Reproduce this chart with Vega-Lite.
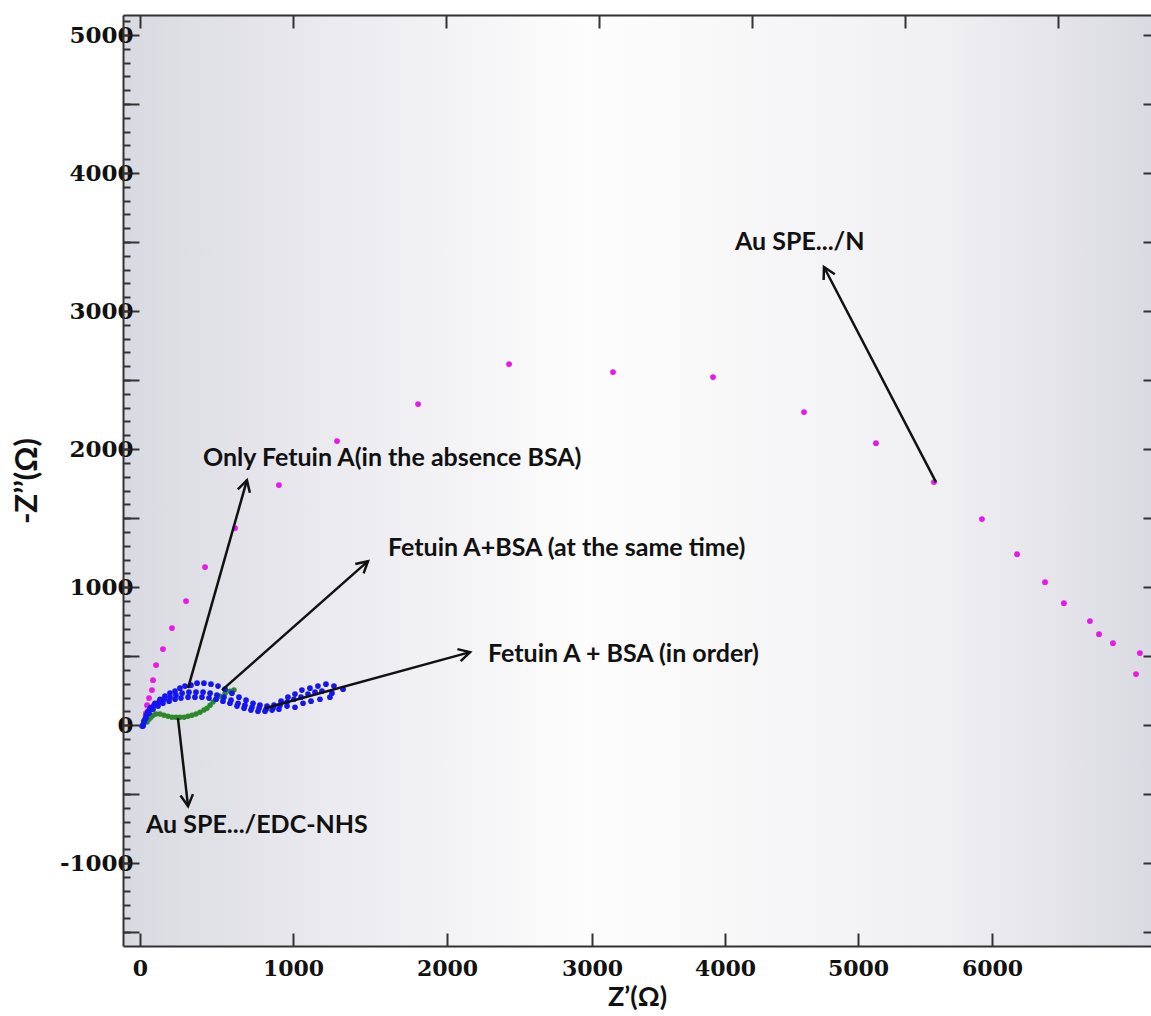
{
  "$schema": "https://vega.github.io/schema/vega-lite/v6.json",
  "width": 1028,
  "height": 931,
  "autosize": "none",
  "padding": {"left": 123, "top": 15, "right": 0, "bottom": 70},
  "background": "white",
  "config": {
    "view": {
      "stroke": null,
      "fill": {"gradient": "linear", "x1": 0, "y1": 0, "x2": 1, "y2": 0,
        "stops": [
          {"offset": 0, "color": "#d9d9e1"},
          {"offset": 0.2, "color": "#eaeaef"},
          {"offset": 0.45, "color": "#fdfdfd"},
          {"offset": 0.8, "color": "#f0f0f3"},
          {"offset": 1, "color": "#dadae2"}
        ]}
    },
    "axis": {"grid": false, "tickColor": "#333333", "domainColor": "#333333", "tickWidth": 2, "domainWidth": 2}
  },
  "datasets": {
    "magenta": [
      {"x": 33, "y": 36}, {"x": 39, "y": 87}, {"x": 46, "y": 145}, {"x": 59, "y": 196}, {"x": 78, "y": 254},
      {"x": 85, "y": 326}, {"x": 105, "y": 435}, {"x": 150, "y": 551}, {"x": 209, "y": 703}, {"x": 301, "y": 899},
      {"x": 425, "y": 1145}, {"x": 621, "y": 1428}, {"x": 908, "y": 1739}, {"x": 1286, "y": 2058}, {"x": 1812, "y": 2326},
      {"x": 2428, "y": 2616}, {"x": 3158, "y": 2558}, {"x": 3910, "y": 2522}, {"x": 4594, "y": 2268}, {"x": 5134, "y": 2043},
      {"x": 5567, "y": 1761}, {"x": 5925, "y": 1493}, {"x": 6187, "y": 1239}, {"x": 6396, "y": 1036}, {"x": 6537, "y": 884},
      {"x": 6731, "y": 754}, {"x": 6799, "y": 659}, {"x": 6903, "y": 594}, {"x": 7104, "y": 522}, {"x": 7075, "y": 370}
    ],
    "green": [
      {"x": 46, "y": 22}, {"x": 59, "y": 43}, {"x": 72, "y": 58}, {"x": 85, "y": 72}, {"x": 105, "y": 80},
      {"x": 131, "y": 80}, {"x": 157, "y": 72}, {"x": 183, "y": 65}, {"x": 209, "y": 58}, {"x": 235, "y": 58},
      {"x": 261, "y": 58}, {"x": 288, "y": 58}, {"x": 314, "y": 65}, {"x": 340, "y": 72}, {"x": 366, "y": 80},
      {"x": 392, "y": 94}, {"x": 418, "y": 109}, {"x": 438, "y": 123}, {"x": 458, "y": 145}, {"x": 477, "y": 167},
      {"x": 497, "y": 188}, {"x": 523, "y": 210}, {"x": 556, "y": 232}, {"x": 588, "y": 246}, {"x": 614, "y": 254}
    ],
    "blue": [
      {"s": "A", "x": 20, "y": -7}, {"s": "A", "x": 26, "y": 29}, {"s": "A", "x": 39, "y": 65}, {"s": "A", "x": 52, "y": 101},
      {"s": "A", "x": 72, "y": 130}, {"s": "A", "x": 98, "y": 159}, {"s": "A", "x": 131, "y": 188}, {"s": "A", "x": 163, "y": 210},
      {"s": "A", "x": 196, "y": 232}, {"s": "A", "x": 229, "y": 246}, {"s": "A", "x": 261, "y": 268}, {"s": "A", "x": 294, "y": 283},
      {"s": "A", "x": 333, "y": 290}, {"s": "A", "x": 373, "y": 304}, {"s": "A", "x": 418, "y": 304}, {"s": "A", "x": 464, "y": 297},
      {"s": "A", "x": 510, "y": 283}, {"s": "A", "x": 556, "y": 261}, {"s": "A", "x": 601, "y": 232}, {"s": "A", "x": 647, "y": 203},
      {"s": "A", "x": 693, "y": 181}, {"s": "A", "x": 739, "y": 159}, {"s": "A", "x": 784, "y": 145}, {"s": "A", "x": 830, "y": 138},
      {"s": "A", "x": 876, "y": 145}, {"s": "A", "x": 922, "y": 174}, {"s": "A", "x": 967, "y": 203}, {"s": "A", "x": 1013, "y": 225},
      {"s": "A", "x": 1058, "y": 254}, {"s": "A", "x": 1110, "y": 268}, {"s": "A", "x": 1162, "y": 283}, {"s": "A", "x": 1214, "y": 297},
      {"s": "A", "x": 1266, "y": 283}, {"s": "A", "x": 1325, "y": 261},
      {"s": "B", "x": 20, "y": 0}, {"s": "B", "x": 33, "y": 43}, {"s": "B", "x": 46, "y": 80}, {"s": "B", "x": 65, "y": 116},
      {"s": "B", "x": 92, "y": 145}, {"s": "B", "x": 124, "y": 167}, {"s": "B", "x": 157, "y": 188}, {"s": "B", "x": 196, "y": 203},
      {"s": "B", "x": 235, "y": 217}, {"s": "B", "x": 275, "y": 232}, {"s": "B", "x": 320, "y": 239}, {"s": "B", "x": 366, "y": 239},
      {"s": "B", "x": 412, "y": 239}, {"s": "B", "x": 458, "y": 232}, {"s": "B", "x": 503, "y": 217}, {"s": "B", "x": 549, "y": 203},
      {"s": "B", "x": 595, "y": 181}, {"s": "B", "x": 641, "y": 159}, {"s": "B", "x": 686, "y": 145}, {"s": "B", "x": 732, "y": 130},
      {"s": "B", "x": 778, "y": 123}, {"s": "B", "x": 824, "y": 116}, {"s": "B", "x": 869, "y": 123}, {"s": "B", "x": 915, "y": 145},
      {"s": "B", "x": 961, "y": 167}, {"s": "B", "x": 1006, "y": 188}, {"s": "B", "x": 1052, "y": 203}, {"s": "B", "x": 1097, "y": 225},
      {"s": "B", "x": 1143, "y": 239}, {"s": "B", "x": 1188, "y": 246}, {"s": "B", "x": 1253, "y": 232},
      {"s": "C", "x": 13, "y": -7}, {"s": "C", "x": 26, "y": 22}, {"s": "C", "x": 39, "y": 51}, {"s": "C", "x": 59, "y": 87},
      {"s": "C", "x": 85, "y": 116}, {"s": "C", "x": 118, "y": 138}, {"s": "C", "x": 150, "y": 159}, {"s": "C", "x": 190, "y": 174},
      {"s": "C", "x": 229, "y": 188}, {"s": "C", "x": 268, "y": 196}, {"s": "C", "x": 314, "y": 203}, {"s": "C", "x": 359, "y": 203},
      {"s": "C", "x": 405, "y": 203}, {"s": "C", "x": 451, "y": 196}, {"s": "C", "x": 497, "y": 188}, {"s": "C", "x": 542, "y": 174},
      {"s": "C", "x": 588, "y": 159}, {"s": "C", "x": 634, "y": 138}, {"s": "C", "x": 680, "y": 123}, {"s": "C", "x": 725, "y": 109},
      {"s": "C", "x": 771, "y": 101}, {"s": "C", "x": 817, "y": 101}, {"s": "C", "x": 863, "y": 109}, {"s": "C", "x": 908, "y": 116},
      {"s": "C", "x": 961, "y": 138}, {"s": "C", "x": 1013, "y": 130}, {"s": "C", "x": 1065, "y": 159}, {"s": "C", "x": 1117, "y": 174},
      {"s": "C", "x": 1175, "y": 188}, {"s": "C", "x": 1240, "y": 203}
    ],
    "notes": [
      {"label": "Au SPE.../N", "x": 4075, "y": 3500},
      {"label": "Only Fetuin A(in the absence BSA)", "x": 412, "y": 1935},
      {"label": "Fetuin A+BSA (at the same time)", "x": 1617, "y": 1283},
      {"label": "Fetuin A + BSA (in order)", "x": 2283, "y": 514},
      {"label": "Au SPE.../EDC-NHS", "x": 39, "y": -725}
    ],
    "arrows": [
      {"x": 5582, "y": 1761, "x2": 4744, "y2": 3319, "angle": -27.5},
      {"x": 314, "y": 268, "x2": 699, "y2": 1775, "angle": 15.8},
      {"x": 536, "y": 254, "x2": 1487, "y2": 1188, "angle": 48.5},
      {"x": 817, "y": 123, "x2": 2159, "y2": 529, "angle": 74.7},
      {"x": 248, "y": 51, "x2": 314, "y2": -587, "angle": 173.5}
    ]
  },
  "layer": [
    {
      "data": {"name": "magenta"},
      "mark": {"type": "point", "filled": true, "size": 34, "color": "#e61ae6", "opacity": 1},
      "encoding": {
        "x": {"field": "x", "type": "quantitative",
          "scale": {"type": "linear", "domain": [-111, 0, 1000, 2000, 3000, 4000, 5000, 6000, 7187], "range": [0, 17, 170, 324, 469, 602, 735, 869, 1028], "nice": false, "zero": false},
          "axis": {"orient": "bottom", "values": [0, 1000, 2000, 3000, 4000, 5000, 6000], "format": "d", "tickSize": -13,
            "labelFont": "DejaVu Serif", "labelFontWeight": "bold", "labelFontSize": 22, "labelColor": "#111111", "labelPadding": 25,
            "title": "Z’(Ω)", "titleFont": "Lato", "titleFontWeight": "bold", "titleFontSize": 27, "titleColor": "#111111", "titlePadding": 5}},
        "y": {"field": "y", "type": "quantitative",
          "scale": {"domain": [-1600, 5145], "nice": false, "zero": false},
          "axis": {"orient": "left", "values": [-1500, -1000, -500, 0, 500, 1000, 1500, 2000, 2500, 3000, 3500, 4000, 4500, 5000],
            "labelExpr": "datum.value % 1000 === 0 ? (datum.value < 0 ? '-' : '') + abs(datum.value) : ''", "tickSize": -16,
            "labelFont": "DejaVu Serif", "labelFontWeight": "bold", "labelFontSize": 23, "labelColor": "#111111", "labelPadding": 6,
            "title": "-Z’’(Ω)", "titleFont": "Lato", "titleFontWeight": "bold", "titleFontSize": 31, "titleColor": "#111111", "titlePadding": 16}}
      }
    },
    {
      "data": {"name": "green"},
      "mark": {"type": "point", "filled": true, "size": 30, "color": "#2a8a2a", "opacity": 1},
      "encoding": {
        "x": {"field": "x", "type": "quantitative",
          "scale": {"type": "linear", "domain": [-111, 0, 1000, 2000, 3000, 4000, 5000, 6000, 7187], "range": [0, 17, 170, 324, 469, 602, 735, 869, 1028], "nice": false, "zero": false},
          "axis": {"orient": "top", "values": [0, 1000, 1993, 3053, 4203, 5351, 6493], "tickSize": -13, "labels": false, "title": null}},
        "y": {"field": "y", "type": "quantitative",
          "scale": {"domain": [-1600, 5145], "nice": false, "zero": false},
          "axis": {"orient": "left", "values": [-1500, -1400, -1300, -1200, -1100, -1000, -900, -800, -700, -600, -500, -400, -300, -200, -100, 0, 100, 200, 300, 400, 500, 600, 700, 800, 900, 1000, 1100, 1200, 1300, 1400, 1500, 1600, 1700, 1800, 1900, 2000, 2100, 2200, 2300, 2400, 2500, 2600, 2700, 2800, 2900, 3000, 3100, 3200, 3300, 3400, 3500, 3600, 3700, 3800, 3900, 4000, 4100, 4200, 4300, 4400, 4500, 4600, 4700, 4800, 4900, 5000, 5100],
            "tickSize": -7, "labels": false, "domain": false, "title": null}}
      }
    },
    {
      "data": {"name": "blue"},
      "mark": {"type": "point", "filled": true, "size": 32, "color": "#1515f0", "opacity": 1},
      "encoding": {
        "x": {"field": "x", "type": "quantitative",
          "scale": {"type": "linear", "domain": [-111, 0, 1000, 2000, 3000, 4000, 5000, 6000, 7187], "range": [0, 17, 170, 324, 469, 602, 735, 869, 1028], "nice": false, "zero": false},
          "axis": null},
        "y": {"field": "y", "type": "quantitative",
          "scale": {"domain": [-1600, 5145], "nice": false, "zero": false},
          "axis": {"orient": "right", "values": [-1500, -1000, -500, 0, 500, 1000, 1500, 2000, 2500, 3000, 3500, 4000, 4500, 5000],
            "tickSize": -8, "labels": false, "domain": false, "title": null}},
        "detail": {"field": "s", "type": "nominal"}
      }
    },
    {
      "data": {"name": "arrows"},
      "mark": {"type": "rule", "color": "#111111", "strokeWidth": 2.5},
      "encoding": {
        "x": {"field": "x", "type": "quantitative", "scale": {"type": "linear", "domain": [-111, 0, 1000, 2000, 3000, 4000, 5000, 6000, 7187], "range": [0, 17, 170, 324, 469, 602, 735, 869, 1028], "nice": false, "zero": false}, "axis": null},
        "y": {"field": "y", "type": "quantitative", "scale": {"domain": [-1600, 5145], "nice": false, "zero": false}, "axis": null},
        "x2": {"field": "x2"},
        "y2": {"field": "y2"}
      }
    },
    {
      "data": {"name": "arrows"},
      "mark": {"type": "point", "shape": "M-0.55,1L0,0L0.55,1", "filled": false, "size": 520, "color": "#111111", "strokeWidth": 2.5, "opacity": 1},
      "encoding": {
        "x": {"field": "x2", "type": "quantitative", "scale": {"type": "linear", "domain": [-111, 0, 1000, 2000, 3000, 4000, 5000, 6000, 7187], "range": [0, 17, 170, 324, 469, 602, 735, 869, 1028], "nice": false, "zero": false}, "axis": null},
        "y": {"field": "y2", "type": "quantitative", "scale": {"domain": [-1600, 5145], "nice": false, "zero": false}, "axis": null},
        "angle": {"field": "angle", "type": "quantitative", "scale": null}
      }
    },
    {
      "data": {"name": "notes"},
      "mark": {"type": "text", "align": "left", "baseline": "middle", "font": "Lato", "fontWeight": "bold", "fontSize": 25, "color": "#111111"},
      "encoding": {
        "x": {"field": "x", "type": "quantitative", "scale": {"type": "linear", "domain": [-111, 0, 1000, 2000, 3000, 4000, 5000, 6000, 7187], "range": [0, 17, 170, 324, 469, 602, 735, 869, 1028], "nice": false, "zero": false}, "axis": null},
        "y": {"field": "y", "type": "quantitative", "scale": {"domain": [-1600, 5145], "nice": false, "zero": false}, "axis": null},
        "text": {"field": "label", "type": "nominal"}
      }
    }
  ],
  "resolve": {"axis": {"x": "independent", "y": "independent"}}
}
